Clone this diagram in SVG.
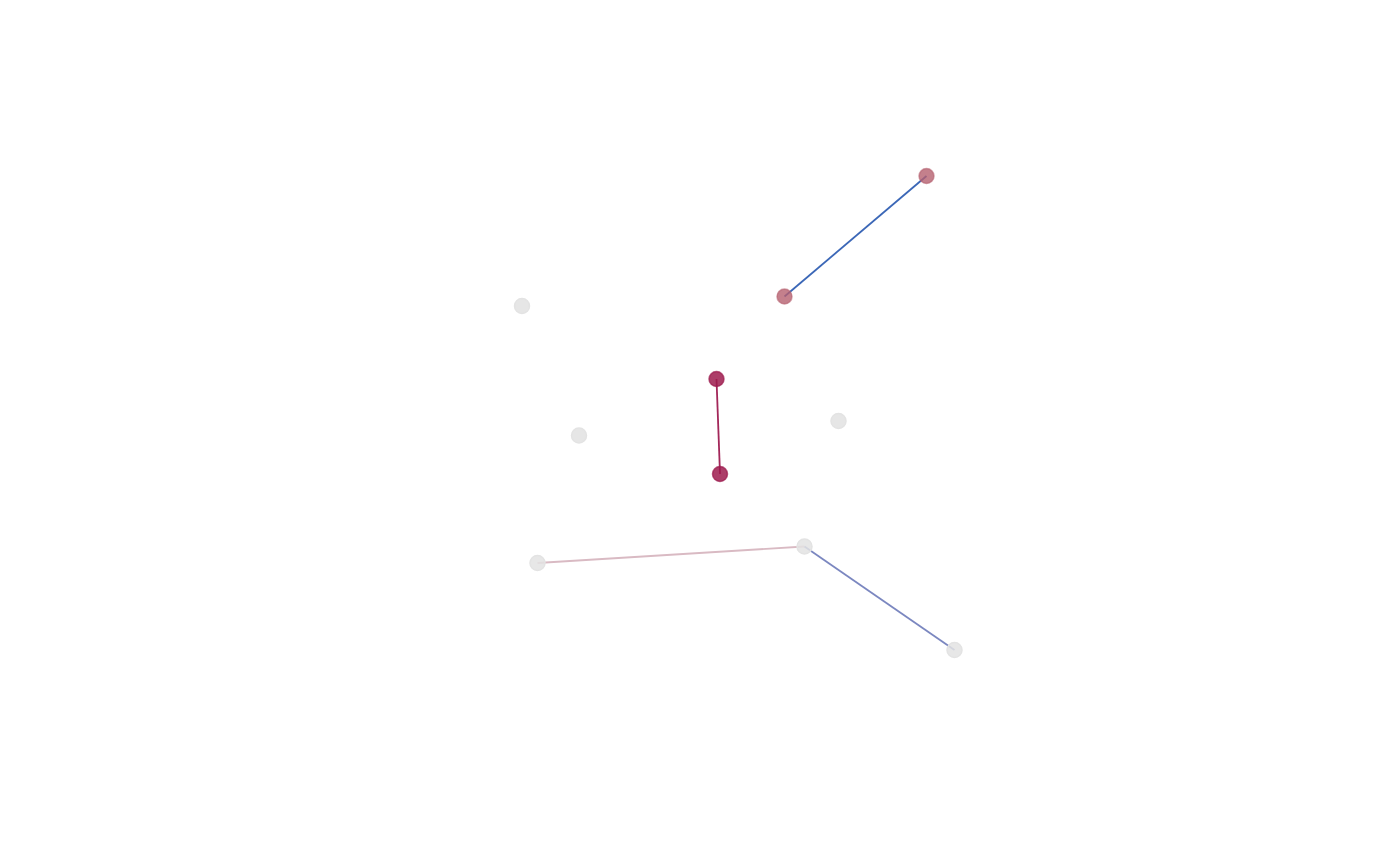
<svg xmlns="http://www.w3.org/2000/svg" width="1400" height="865" viewBox="0 0 1400 865">
<style>
.n{stroke-width:1.5}
.e{fill:none;stroke-width:1.8}
</style>
<rect width="1400" height="865" fill="#ffffff"/>
<g id="connectors">
<line class="e" x1="926.5" y1="176" x2="784.5" y2="296.5" stroke="#3b67b7"/>
<line class="e" x1="716.5" y1="379" x2="720" y2="474" stroke="#a3275a"/>
<line class="e" x1="537.5" y1="563" x2="804.5" y2="546.5" stroke="#d9bac3"/>
<line class="e" x1="804.5" y1="546.5" x2="954.5" y2="650" stroke="#7b87c0"/>
</g>
<g id="n1"><circle class="n" cx="926.5" cy="176" r="7.5" fill="#b5606f" fill-opacity="0.8" stroke="#b5606f" stroke-opacity="0.6"/></g>
<g id="n2"><circle class="n" cx="784.5" cy="296.5" r="7.5" fill="#b5606f" fill-opacity="0.8" stroke="#b5606f" stroke-opacity="0.6"/></g>
<g id="n3"><circle class="n" cx="522" cy="306" r="7.5" fill="#e3e3e3" fill-opacity="0.9" stroke="#e3e3e3"/></g>
<g id="n4"><circle class="n" cx="716.5" cy="379" r="7.5" fill="#9d1b4e" fill-opacity="0.85" stroke="#9d1b4e" stroke-opacity="0.7"/></g>
<g id="n5"><circle class="n" cx="579" cy="435.5" r="7.5" fill="#e3e3e3" fill-opacity="0.9" stroke="#e3e3e3"/></g>
<g id="n6"><circle class="n" cx="838.5" cy="421" r="7.5" fill="#e3e3e3" fill-opacity="0.9" stroke="#e3e3e3"/></g>
<g id="n7"><circle class="n" cx="720" cy="474" r="7.5" fill="#9d1b4e" fill-opacity="0.85" stroke="#9d1b4e" stroke-opacity="0.7"/></g>
<g id="n8"><circle class="n" cx="537.5" cy="563" r="7.5" fill="#e3e3e3" fill-opacity="0.85" stroke="#e3e3e3"/></g>
<g id="n9"><circle class="n" cx="804.5" cy="546.5" r="7.5" fill="#e3e3e3" fill-opacity="0.85" stroke="#e3e3e3"/></g>
<g id="n10"><circle class="n" cx="954.5" cy="650" r="7.5" fill="#e3e3e3" fill-opacity="0.85" stroke="#e3e3e3"/></g>
</svg>
